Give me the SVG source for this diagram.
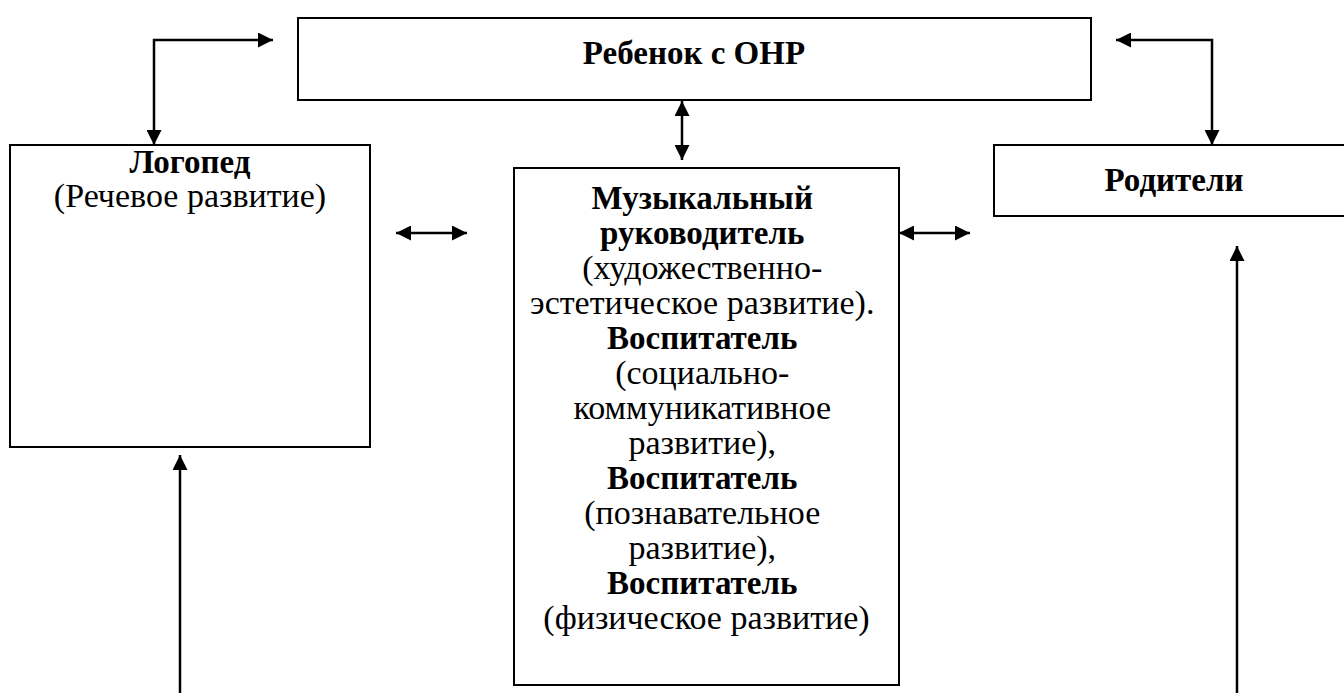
<svg xmlns="http://www.w3.org/2000/svg" width="1344" height="693" viewBox="0 0 1344 693">
<defs>
<style>
.box{fill:#fff;stroke:#000;stroke-width:2}
.t{font-family:'Times New Roman','Liberation Serif','DejaVu Serif',serif;font-size:34px;fill:#000;text-anchor:middle}
.b{font-weight:bold;font-size:33px}
.c{fill:none;stroke:#000;stroke-width:2.5}
</style>
<marker id="ah" viewBox="0 0 10 10" refX="10" refY="5" markerWidth="6" markerHeight="6" markerUnits="strokeWidth" orient="auto-start-reverse">
<path d="M0,0 L10,5 L0,10 z" fill="#000"/>
</marker>
</defs>
<rect width="1344" height="693" fill="#fff"/>
<g id="child">
<rect class="box" x="298" y="18" width="793" height="82"/>
<text class="t b" x="694" y="64">Ребенок с ОНР</text>
</g>
<g id="logoped">
<rect class="box" x="10" y="145" width="360" height="302"/>
<text class="t b" x="190" y="173">Логопед</text>
<text class="t" x="190" y="207">(Речевое развитие)</text>
</g>
<g id="parents">
<rect class="box" x="994" y="145" width="360" height="71"/>
<text class="t b" x="1174" y="191">Родители</text>
</g>
<g id="teachers">
<rect class="box" x="514" y="168" width="385" height="517"/>
<text class="t" x="706.5" y="209">
<tspan class="b" x="706.5" dy="0">Музыкальный</tspan>
<tspan class="b" x="706.5" dy="35">руководитель</tspan>
<tspan x="706.5" dy="35">(художественно-</tspan>
<tspan x="706.5" dy="35">эстетическое развитие).</tspan>
<tspan class="b" x="706.5" dy="35">Воспитатель</tspan>
<tspan x="706.5" dy="35">(социально-</tspan>
<tspan x="706.5" dy="35">коммуникативное</tspan>
<tspan x="706.5" dy="35">развитие),</tspan>
<tspan class="b" x="706.5" dy="35">Воспитатель</tspan>
<tspan x="706.5" dy="35">(познавательное</tspan>
<tspan x="706.5" dy="35">развитие),</tspan>
<tspan class="b" x="706.5" dy="35">Воспитатель</tspan>
<tspan x="706.5" dy="35">(физическое развитие)</tspan>
</text>
</g>
<g id="connectors">
<path class="c" d="M154,145 L154,40 L273,40" marker-start="url(#ah)" marker-end="url(#ah)"/>
<path class="c" d="M1116,40 L1212,40 L1212,145" marker-start="url(#ah)" marker-end="url(#ah)"/>
<path class="c" d="M682,101 L682,160" marker-start="url(#ah)" marker-end="url(#ah)"/>
<path class="c" d="M396,233 L467,233" marker-start="url(#ah)" marker-end="url(#ah)"/>
<path class="c" d="M899,233 L970,233" marker-start="url(#ah)" marker-end="url(#ah)"/>
<path class="c" d="M180,693 L180,455" marker-end="url(#ah)"/>
<path class="c" d="M1237,693 L1237,246" marker-end="url(#ah)"/>
</g>
</svg>
